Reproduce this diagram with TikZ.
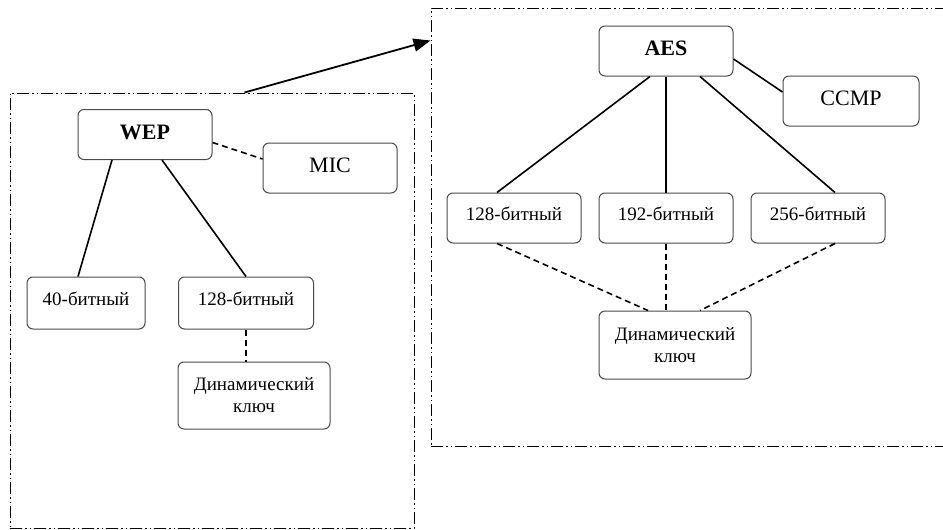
\documentclass[tikz,border=0pt]{standalone}
\usepackage{fontspec}
\setmainfont{Liberation Serif}
\usetikzlibrary{positioning, arrows.meta}
\definecolor{boxgray}{HTML}{4A4A4A}

\begin{document}
\begin{tikzpicture}[
  x=1pt, y=-1pt,
  box/.style={draw=boxgray, line width=1pt, rounded corners=6pt, align=center, inner sep=2pt,
              minimum width=134pt, minimum height=50pt, font=\fontsize{19}{22}\selectfont},
  oneline/.style={box, text depth=9pt},
  head/.style={oneline, text depth=5pt, font=\fontsize{22}{26}\selectfont\bfseries},
  side/.style={oneline, text depth=5pt, font=\fontsize{22}{26}\selectfont},
  frame/.style={draw=black, line width=1pt, inner sep=0pt,
                dash pattern=on 12pt off 3pt on 1.5pt off 3pt on 1.5pt off 3pt},
  link/.style={line width=1.6pt},
  weak/.style={line width=1.6pt, dash pattern=on 6pt off 4pt},
  arr/.style={-{Triangle[length=17pt,width=13pt]}, line width=1.8pt}
]
\useasboundingbox (0,0) rectangle (943,530);

% frames
\node[frame, minimum width=404pt, minimum height=435pt] (wepframe) at (212,310.5) {};
\node[frame, minimum width=519pt, minimum height=438pt] (aesframe) at (690.5,227) {};

% WEP side
\node[head] (wep) at (145,134.5) {WEP};
\node[side] (mic) at (330,168) {MIC};
\node[oneline, minimum width=118pt, minimum height=52pt] (k40) at (86,303) {40-битный};
\node[oneline, minimum width=135pt, minimum height=52pt] (k128) at (246,303) {128-битный};
\node[box, minimum width=152pt, minimum height=67pt] (dynl) at (254,395.5) {Динамический\\ключ};

% AES side
\node[head] (aes) at (666,51) {AES};
\node[side, minimum width=136pt] (ccmp) at (851,101) {CCMP};
\node[oneline] (a192) at (666,218) {192-битный};
\node[oneline, left=17pt of a192] (a128) {128-битный};
\node[oneline, right=17pt of a192] (a256) {256-битный};
\node[box, minimum width=152pt, minimum height=68pt] (dynr) at (675,345) {Динамический\\ключ};

\draw[weak] ([yshift=-8pt]wep.east) -- ([yshift=9pt]mic.west);
\draw[link] ([xshift=-33pt]wep.south) -- ([xshift=-8pt]k40.north);
\draw[link] ([xshift=17pt]wep.south) -- (k128.north);
\draw[weak] (k128.south) -- (k128.south |- dynl.north);

\draw[link] ([yshift=-8pt]aes.east) -- ([yshift=9pt]ccmp.west);
\draw[link] ([xshift=-16pt]aes.south) -- ([xshift=-17pt]a128.north);
\draw[link] (aes.south) -- (a192.north);
\draw[link] ([xshift=34pt]aes.south) -- ([xshift=17pt]a256.north);
\draw[weak] ([xshift=-17pt]a128.south) -- ([xshift=-27pt]dynr.north);
\draw[weak] (a192.south) -- (a192.south |- dynr.north);
\draw[weak] ([xshift=17pt]a256.south) -- ([xshift=25pt]dynr.north);

\draw[arr] ([xshift=235pt]wepframe.north west) -- ([yshift=-33pt]aesframe.north west);
\end{tikzpicture}
\end{document}
